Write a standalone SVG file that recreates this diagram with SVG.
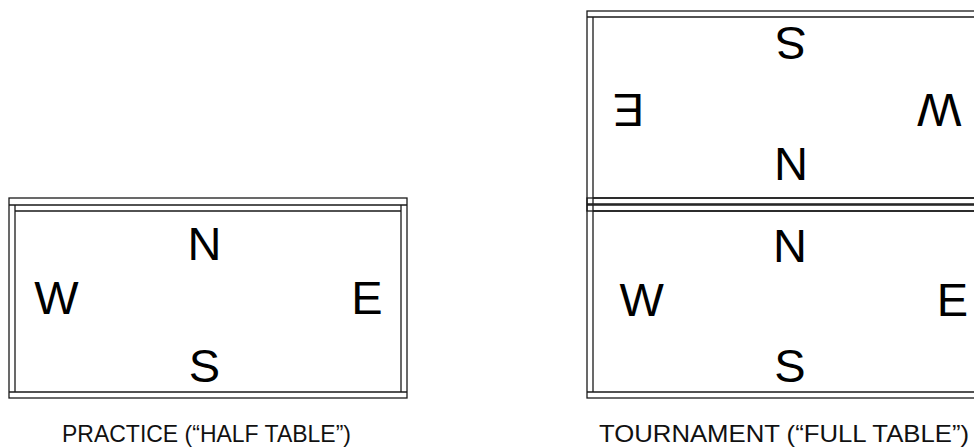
<svg xmlns="http://www.w3.org/2000/svg" width="974" height="447" viewBox="0 0 974 447">
<style>
.fr{fill:none;stroke:#1a1a1a;stroke-width:1.3}
.ln{stroke:#1a1a1a;stroke-width:1.3;fill:none}
.dir{font-family:"Liberation Sans",Arial,sans-serif;font-size:47px;fill:#000;text-anchor:middle}
.cap{font-family:"Liberation Sans",Arial,sans-serif;font-size:24px;fill:#111;text-anchor:middle}
</style>
<rect width="974" height="447" fill="#fff"/>
<g id="practice-table">
  <rect class="fr" x="9" y="198" width="398" height="200"/>
  <path class="ln" d="M9 205H407M9 392H407M15 205V392M401 205V392M15 211H401"/>
  <text class="dir" x="204.5" y="259.5">N</text>
  <text class="dir" x="56.5" y="314">W</text>
  <text class="dir" x="367" y="314">E</text>
  <text class="dir" x="204.5" y="381.5">S</text>
</g>
<g id="tournament-near">
  <rect class="fr" x="587" y="198" width="407" height="200"/>
  <path class="ln" d="M587 205H994M587 392H994M593 205V392M988 205V392M593 211H988"/>
  <text class="dir" x="790" y="261.5">N</text>
  <text class="dir" x="641.7" y="315.5">W</text>
  <text class="dir" x="952.5" y="315.5">E</text>
  <text class="dir" x="790" y="382">S</text>
</g>
<g id="tournament-far" transform="rotate(180 790.5 204.5)">
  <rect class="fr" x="587" y="198" width="407" height="200"/>
  <path class="ln" d="M587 205H994M587 392H994M593 205V392M988 205V392M593 211H988"/>
  <text class="dir" x="790" y="261.5">N</text>
  <text class="dir" x="641.7" y="315.5">W</text>
  <text class="dir" x="952.5" y="315.5">E</text>
  <text class="dir" x="790" y="382">S</text>
</g>
<g id="captions">
  <text class="cap" x="206.5" y="442" textLength="289" lengthAdjust="spacingAndGlyphs">PRACTICE (“HALF TABLE”)</text>
  <text class="cap" x="784" y="442" textLength="370" lengthAdjust="spacingAndGlyphs">TOURNAMENT (“FULL TABLE”)</text>
</g>
</svg>
